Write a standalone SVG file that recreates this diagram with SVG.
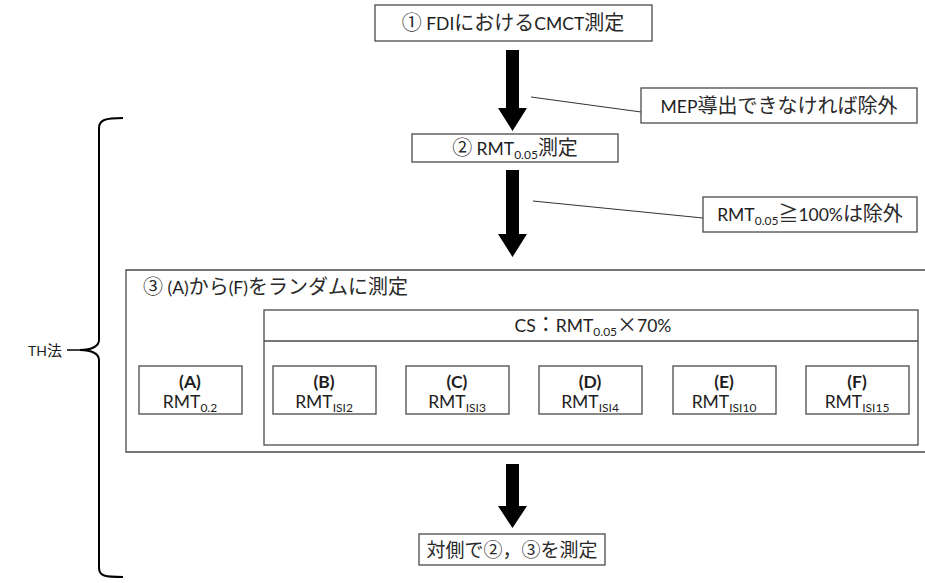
<svg xmlns="http://www.w3.org/2000/svg" width="925" height="583" viewBox="0 0 925 583">
<style>
.box{fill:#fff;stroke:#4a4a4a;stroke-width:1.3}
.t{font-family:Lato,"Noto Sans CJK JP",sans-serif;font-size:17.5px;fill:#1e1e1e}
.j{font-family:"Noto Sans CJK JP",sans-serif;font-size:20px;fill:#2a2a2a}
.c{text-anchor:middle}
.b{font-weight:bold}
.sub{font-size:12px}
.arr{fill:#000}
.ln{stroke:#333;stroke-width:1;fill:none}
</style>
<rect width="925" height="583" fill="#fff"/>
<g id="connectors">
<polygon class="arr" points="506,50 519,50 519,108 527,108 512.5,131 498,108 506,108"/>
<polygon class="arr" points="506,170 519,170 519,234 527,234 512.5,257 498,234 506,234"/>
<polygon class="arr" points="506,464 519,464 519,506 527,506 512.5,528 498,506 506,506"/>
<line class="ln" x1="531" y1="97" x2="641" y2="112"/>
<line class="ln" x1="533" y1="201" x2="703" y2="218"/>
</g>
<g id="n1">
<rect class="box" x="375" y="5" width="277" height="36"/>
<text class="t c" x="513" y="30"><tspan class="j">①</tspan> FDI<tspan class="j">における</tspan>CMCT<tspan class="j">測定</tspan></text>
</g>
<g id="note1">
<rect class="box" x="641" y="88" width="276" height="35"/>
<text class="t c" x="779" y="113">MEP<tspan class="j">導出できなければ除外</tspan></text>
</g>
<g id="n2">
<rect class="box" x="412" y="134" width="206" height="28"/>
<text class="t c" x="515" y="155"><tspan class="j">②</tspan> RMT<tspan class="sub" dy="4">0.05</tspan><tspan class="j" dy="-4">測定</tspan></text>
</g>
<g id="note2">
<rect class="box" x="703" y="197" width="214" height="35"/>
<text class="t c" x="810" y="221">RMT<tspan class="sub" dy="4">0.05</tspan><tspan class="j" dy="-4">≧</tspan>100%<tspan class="j">は除外</tspan></text>
</g>
<g id="n3">
<path class="box" d="M925,270 H126 V452 H925"/>
<text class="t" x="143" y="294"><tspan class="j">③</tspan> (A)<tspan class="j">から</tspan>(F)<tspan class="j">をランダムに測定</tspan></text>
</g>
<g id="cs">
<rect class="box" x="264" y="310" width="654" height="135"/>
<line x1="264" y1="341" x2="918" y2="341" stroke="#4a4a4a" stroke-width="1.3"/>
<text class="t c" x="593" y="332">CS<tspan class="j">：</tspan>RMT<tspan class="sub" dy="4">0.05</tspan><tspan class="j" dy="-4">×</tspan>70%</text>
</g>
<g id="A">
<rect class="box" x="139" y="366" width="103" height="48"/>
<text class="t c b" x="190" y="388">(A)</text>
<text class="t c" x="190" y="408">RMT<tspan class="sub" dy="4">0.2</tspan></text>
</g>
<g id="B">
<rect class="box" x="273" y="366" width="103" height="48"/>
<text class="t c b" x="324" y="388">(B)</text>
<text class="t c" x="324" y="408">RMT<tspan class="sub" dy="4">ISI2</tspan></text>
</g>
<g id="C">
<rect class="box" x="406" y="366" width="103" height="48"/>
<text class="t c b" x="457" y="388">(C)</text>
<text class="t c" x="457" y="408">RMT<tspan class="sub" dy="4">ISI3</tspan></text>
</g>
<g id="D">
<rect class="box" x="539" y="366" width="103" height="48"/>
<text class="t c b" x="590" y="388">(D)</text>
<text class="t c" x="590" y="408">RMT<tspan class="sub" dy="4">ISI4</tspan></text>
</g>
<g id="E">
<rect class="box" x="673" y="366" width="103" height="48"/>
<text class="t c b" x="724" y="388">(E)</text>
<text class="t c" x="724" y="408">RMT<tspan class="sub" dy="4">ISI10</tspan></text>
</g>
<g id="F">
<rect class="box" x="806" y="366" width="103" height="48"/>
<text class="t c b" x="857" y="388">(F)</text>
<text class="t c" x="857" y="408">RMT<tspan class="sub" dy="4">ISI15</tspan></text>
</g>
<g id="n4">
<rect class="box" x="419" y="534" width="186" height="31"/>
<text class="t c" x="512" y="557"><tspan class="j" style="font-size:19px">対側で②，③を測定</tspan></text>
</g>
<g id="brace">
<path d="M123,118 C105,118 99,120 99,128 V340 C99,346 92,350 80,350 C92,350 99,354 99,360 V568 C99,576 105,577 123,577" fill="none" stroke="#000" stroke-width="2"/>
<line x1="67" y1="350" x2="81" y2="350" stroke="#000" stroke-width="1.5"/>
<text class="t" x="62" y="356" style="font-size:14px;text-anchor:end">TH<tspan style="font-size:15px">法</tspan></text>
</g>
</svg>
